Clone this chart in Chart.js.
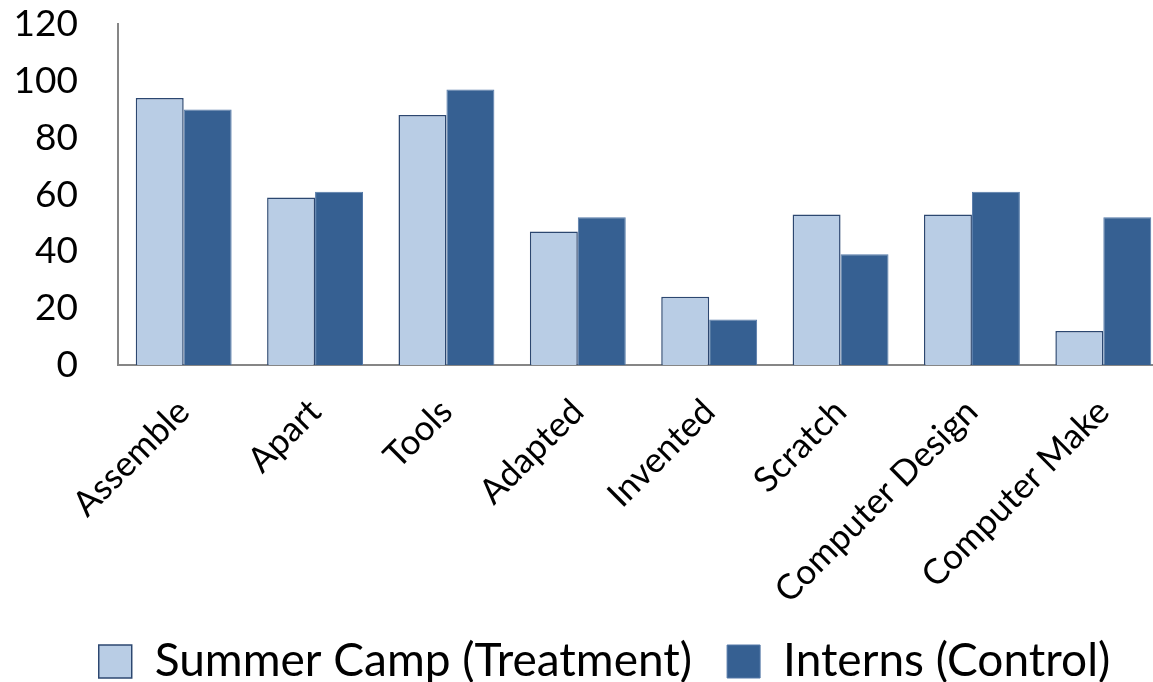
<!DOCTYPE html>
<html>
<head>
<meta charset="utf-8">
<script src="https://cdn.jsdelivr.net/npm/chart.js@4/dist/chart.umd.min.js"></script>
<style>
  html, body { margin: 0; padding: 0; background: #fff; overflow: hidden; }
  #wrap { width: 1170px; height: 720px; margin-top: -38px; }
</style>
</head>
<body>
<div id="wrap"><canvas id="c"></canvas></div>
<script>
// Categories and the two series
const categories = ["Assemble", "Apart", "Tools", "Adapted", "Invented", "Scratch", "Computer Design", "Computer Make"];
const summerCamp = [94, 59, 88, 47, 24, 53, 53, 12];
const interns = [90, 61, 97, 52, 16, 39, 61, 52];
const yTicks = [0, 20, 40, 60, 80, 100, 120];

const FONT = "Lato, 'Open Sans', sans-serif";
const LEGEND_FONT = 46;
const LEGEND_BOX = 33;
const LEGEND_PAD = 35;

// Place the legend row: nudge it right and set its baseline near the bottom edge
const legendPlace = {
  id: 'legendPlace',
  afterLayout(chart) {
    const lg = chart.legend;
    if (!lg) return;
    lg.left += 20;
    lg.right += 20;
    const boxTop = chart.height - 37;
    lg.top = boxTop - LEGEND_PAD - Math.max((LEGEND_FONT - LEGEND_BOX) / 2, 0);
  }
};

new Chart(document.getElementById('c'), {
  type: 'bar',
  data: {
    labels: categories,
    datasets: [
      {
        label: 'Summer Camp (Treatment)',
        data: summerCamp,
        backgroundColor: '#B9CDE5',
        borderColor: '#2C4770',
        borderWidth: 1.5,
        borderSkipped: 'bottom'
      },
      {
        label: 'Interns (Control)',
        data: interns,
        backgroundColor: '#366092',
        borderColor: '#5479A8',
        borderWidth: 1,
        borderSkipped: 'bottom'
      }
    ]
  },
  plugins: [legendPlace],
  options: {
    responsive: true,
    maintainAspectRatio: false,
    animation: false,
    categoryPercentage: 0.73,
    barPercentage: 1.0,
    layout: { padding: { top: 0, right: 1, left: 0, bottom: 0 } },
    plugins: {
      tooltip: { enabled: false },
      legend: {
        position: 'bottom',
        maxHeight: 67,
        labels: {
          color: '#000',
          font: { family: FONT, size: LEGEND_FONT },
          boxWidth: LEGEND_BOX,
          boxHeight: LEGEND_BOX,
          padding: LEGEND_PAD
        }
      }
    },
    scales: {
      x: {
        grid: { display: false, drawTicks: false },
        border: { display: true, color: '#868686', width: 2 },
        ticks: {
          color: '#000',
          font: { family: FONT, size: 35 },
          maxRotation: 45,
          minRotation: 45,
          autoSkip: false,
          padding: 26
        },
        afterFit: (s) => { s.height = 250; }
      },
      y: {
        min: 0,
        max: 120,
        afterBuildTicks: (s) => { s.ticks = yTicks.map(v => ({ value: v })); },
        grid: { display: false, drawTicks: false },
        border: { display: true, color: '#868686', width: 2 },
        ticks: {
          color: '#000',
          font: { family: FONT, size: 37 },
          autoSkip: false,
          padding: 40
        },
        afterFit: (s) => { s.width = 118; }
      }
    }
  }
});
</script>
</body>
</html>
